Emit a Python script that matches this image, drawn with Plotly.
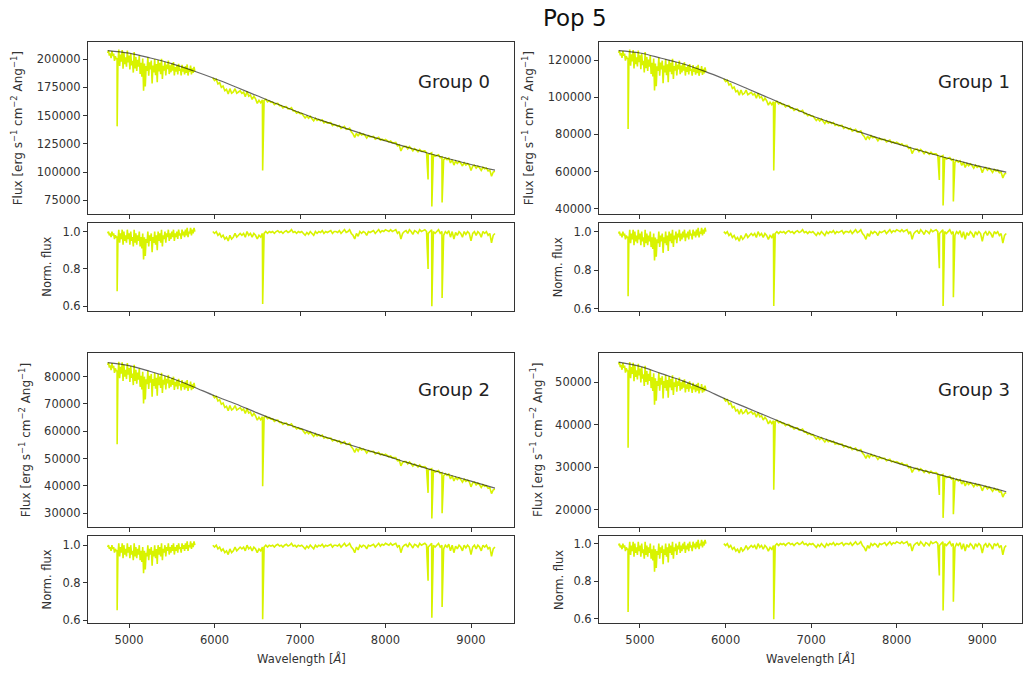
import numpy as np
import plotly.graph_objects as go

W, H = 1023, 677

GROUPS = ["Group 0", "Group 1", "Group 2", "Group 3"]

# Continuum knots (wavelength in Angstrom)
CONT_W = [4750, 5000, 5250, 5500, 5750, 6000, 6250, 6500, 6750, 7000,
          7250, 7500, 7750, 8000, 8250, 8500, 8750, 9000, 9280]
CONT_G0 = [207500, 205300, 201000, 196000, 189700, 182800, 175300, 167500, 159800, 152500,
           145800, 139500, 133400, 127600, 122000, 116650, 111550, 106650, 101650]
CONT_G1 = [125330, 124000, 121200, 118190, 114200, 109680, 104830, 99830, 94920, 90280,
           86170, 82300, 78570, 75030, 71610, 68360, 65370, 62500, 59670]
CONT_G2 = [85080, 83970, 81810, 79380, 76260, 72940, 69940, 66670, 63600, 61000,
           58320, 55800, 53360, 51040, 48560, 46190, 43950, 41700, 39140]
CONT_G3 = [54780, 53790, 52060, 50370, 48370, 46070, 44000, 41880, 39790, 37820,
           36010, 34320, 32680, 31010, 29520, 28230, 26880, 25700, 24190]
CONTS = [CONT_G0, CONT_G1, CONT_G2, CONT_G3]

# Normalised spectrum, blue part (10 A grid) and red part (20 A grid)
BLUE_W = list(range(4750, 5771, 10))
BLUE_F = [0.99, 1.0, 0.98, 0.99, 0.97, 1.0, 0.98, 0.99, 0.96, 0.98, 0.97,
          0.97, 0.95, 1.01, 0.94, 0.99, 0.96, 1.01, 0.93, 1.0, 0.95, 0.98, 0.94, 1.01, 0.96,
          0.99, 0.93, 1.0, 0.95, 0.97, 0.92, 1.01, 0.94, 0.99, 0.93, 0.98,
          0.95, 1.0, 0.92, 0.97, 0.91, 0.99, 0.85, 0.97, 0.87, 0.96,
          0.94, 1.0, 0.92, 0.98, 0.95, 0.99, 0.89, 0.97, 0.94, 1.0,
          0.93, 0.98, 0.90, 1.0, 0.95, 0.99, 0.94, 1.01, 0.92, 0.98,
          0.96, 1.0, 0.94, 0.99, 0.97, 1.01, 0.95, 0.99, 0.96, 1.0,
          0.97, 1.01, 0.95, 0.99, 0.97, 1.0, 0.96, 1.01, 0.98, 0.99,
          0.96, 1.01, 0.98, 1.0, 0.97, 1.01, 0.98, 1.02, 0.97, 1.0,
          0.99, 1.02, 0.98, 1.01, 0.99, 1.02, 1.0]
RED_W = list(range(5980, 9281, 20))
RED_F = [1.0, 0.99, 1.0, 0.98, 0.99, 0.97, 0.98, 0.96, 0.97, 0.95, 0.98, 0.96, 0.97, 0.99, 0.97, 0.98, 0.99,
         0.98, 0.99, 0.97, 1.0, 0.98, 0.99, 0.97, 0.99, 0.98, 0.96, 0.98, 0.97,
         0.99,
         0.99, 1.0, 0.99, 1.0, 0.995, 1.0, 0.99, 1.0, 1.005, 0.995, 1.0, 0.99, 1.0, 1.005, 0.995, 1.0,
         1.01, 0.995, 1.0, 0.99, 1.0, 0.995,
         1.0, 0.99, 0.98, 0.995, 0.985, 1.0, 0.99, 0.98, 1.0, 0.99, 1.0, 0.995, 1.005, 0.99, 1.0, 0.995,
         1.0, 1.005, 0.99, 1.0,
         1.0, 0.995, 1.005, 0.99, 1.0, 1.01, 0.995, 1.0, 1.01, 0.99, 0.98, 0.96, 0.99, 0.975, 1.0, 0.99,
         1.0, 0.995, 0.98, 1.0,
         0.995, 1.0, 1.005, 0.99, 1.0, 1.01, 0.995, 1.005, 1.0, 1.01, 1.005, 1.0, 1.01, 1.0, 1.005, 1.01,
         0.99, 1.0, 0.96, 0.99,
         1.0, 1.005, 0.99, 1.01, 1.0, 0.985, 1.005, 1.0, 0.99, 1.01, 1.0, 1.005, 1.01, 1.0,
         0.99, 1.0, 1.01, 1.0, 0.99, 1.0, 1.01, 0.99, 1.0, 0.98,
         1.0, 0.99, 1.005, 0.97, 1.0, 0.96, 0.995, 0.98, 1.0, 0.99, 0.97, 1.0, 0.985, 1.0, 0.99, 0.95,
         0.99, 1.0, 0.98, 1.0, 0.99, 0.97, 1.0, 0.99, 1.0, 0.98, 0.99, 0.94, 0.98, 0.99]

# Deep lines: H-beta, H-alpha, Ca triplet
DEEP_W = [4861, 6563, 8498, 8542, 8662]
DEEP_F = [[0.68, 0.612, 0.80, 0.60, 0.644],
          [0.665, 0.614, 0.81, 0.614, 0.66],
          [0.653, 0.605, 0.81, 0.612, 0.67],
          [0.636, 0.597, 0.83, 0.644, 0.69]]

FLUX_TICKS = [[75000, 100000, 125000, 150000, 175000, 200000],
              [40000, 60000, 80000, 100000, 120000],
              [30000, 40000, 50000, 60000, 70000, 80000],
              [20000, 30000, 40000, 50000]]
FLUX_RANGE = [[62450, 215450], [36800, 130130], [24900, 88460], [15860, 56850]]
NORM_RANGE = [[0.5765, 1.044], [0.59, 1.043], [0.5826, 1.049], [0.575, 1.0405]]
NORM_TICKS = [0.6, 0.8, 1.0]
X_TICKS = [5000, 6000, 7000, 8000, 9000]
X_RANGE = [[4520, 9503], [4521, 9464], [4520, 9503], [4521, 9464]]

SPEC_COLOR = "#d8f300"
CONT_COLOR = "rgba(0,0,0,0.6)"
AX_COLOR = "#333333"
FONT = "DejaVu Sans"

# pixel layout
COL_X = [(88, 514), (599, 1022), (88, 514), (599, 1022)]
FLUX_Y = [(42, 216), (42, 216), (356, 531), (356, 531)]
NORM_Y = [(225, 313), (225, 313), (540, 628), (540, 628)]
FLUX_LABEL_X = [17.3, 528.3, 25, 536.7]
NORM_LABEL_X = [46.7, 558.3, 46.7, 558.3]
GROUP_LABEL = [(492, 82), (1012, 82), (492, 392), (1012, 392)]


def px_x(p):
    return p / W


def px_y(p):
    return 1 - p / H


def build_norm(g):
    bw = list(BLUE_W) + [w for w in DEEP_W if w < 5800]
    bf = list(BLUE_F) + [f for w, f in zip(DEEP_W, DEEP_F[g]) if w < 5800]
    rw = list(RED_W) + [w for w in DEEP_W if w > 5800]
    rf = list(RED_F) + [f for w, f in zip(DEEP_W, DEEP_F[g]) if w > 5800]
    bo = np.argsort(bw)
    ro = np.argsort(rw)
    bw = [bw[i] for i in bo]
    bf = [bf[i] for i in bo]
    rw = [rw[i] for i in ro]
    rf = [rf[i] for i in ro]
    return bw, bf, rw, rf


fig = go.Figure()
layout = {}
annotations = []

for g in range(4):
    fx, fy = 2 * g + 1, 2 * g + 2
    bw, bf, rw, rf = build_norm(g)
    cont_b = np.interp(bw, CONT_W, CONTS[g])
    cont_r = np.interp(rw, CONT_W, CONTS[g])
    flux_w = bw + [None] + rw
    flux_f = list(np.array(bf) * cont_b) + [None] + list(np.array(rf) * cont_r)
    norm_w = bw + [None] + rw
    norm_f = bf + [None] + rf

    xa = "x" if fx == 1 else f"x{fx}"
    ya = "y" if fx == 1 else f"y{fx}"
    xb, yb = f"x{fy}", f"y{fy}"

    fig.add_trace(go.Scatter(x=flux_w, y=flux_f, mode="lines",
                             line=dict(color=SPEC_COLOR, width=1.6, simplify=False),
                             xaxis=xa, yaxis=ya, showlegend=False, hoverinfo="skip"))
    fig.add_trace(go.Scatter(x=CONT_W, y=CONTS[g], mode="lines",
                             line=dict(color=CONT_COLOR, width=1.2, shape="spline"),
                             xaxis=xa, yaxis=ya, showlegend=False, hoverinfo="skip"))
    fig.add_trace(go.Scatter(x=norm_w, y=norm_f, mode="lines",
                             line=dict(color=SPEC_COLOR, width=1.6, simplify=False),
                             xaxis=xb, yaxis=yb, showlegend=False, hoverinfo="skip"))

    x0, x1 = COL_X[g]
    common_x = dict(range=X_RANGE[g], tickvals=X_TICKS, ticks="outside", ticklen=4,
                    tickcolor=AX_COLOR, showline=True, linecolor=AX_COLOR, linewidth=1,
                    mirror=True, showgrid=False, zeroline=False,
                    domain=[px_x(x0), px_x(x1)],
                    tickfont=dict(family=FONT, size=11.5, color=AX_COLOR))
    common_y = dict(ticks="outside", ticklen=4, tickcolor=AX_COLOR, showline=True,
                    linecolor=AX_COLOR, linewidth=1, mirror=True, showgrid=False,
                    zeroline=False, tickfont=dict(family=FONT, size=11.5, color=AX_COLOR))

    layout["xaxis" if fx == 1 else f"xaxis{fx}"] = dict(common_x, anchor=ya, showticklabels=False)
    layout[f"xaxis{fy}"] = dict(common_x, anchor=yb, showticklabels=(g >= 2), ticklabelstandoff=2)
    layout["yaxis" if fx == 1 else f"yaxis{fx}"] = dict(
        common_y, anchor=xa, range=FLUX_RANGE[g], tickvals=FLUX_TICKS[g], tickformat="d",
        domain=[px_y(FLUX_Y[g][1]), px_y(FLUX_Y[g][0])])
    layout[f"yaxis{fy}"] = dict(
        common_y, anchor=xb, range=NORM_RANGE[g], tickvals=NORM_TICKS, tickformat=".1f",
        domain=[px_y(NORM_Y[g][1]), px_y(NORM_Y[g][0])])

    annotations.append(dict(
        text="Flux [erg s<sup>\u22121</sup> cm<sup>\u22122</sup> Ang<sup>\u22121</sup>]",
        x=px_x(FLUX_LABEL_X[g]), y=px_y((FLUX_Y[g][0] + FLUX_Y[g][1]) / 2),
        xref="paper", yref="paper", textangle=-90, showarrow=False,
        xanchor="center", yanchor="middle",
        font=dict(family=FONT, size=12, color=AX_COLOR)))
    annotations.append(dict(
        text="Norm. flux",
        x=px_x(NORM_LABEL_X[g]), y=px_y((NORM_Y[g][0] + NORM_Y[g][1]) / 2),
        xref="paper", yref="paper", textangle=-90, showarrow=False,
        xanchor="center", yanchor="middle",
        font=dict(family=FONT, size=11.5, color=AX_COLOR)))
    gx, gy = GROUP_LABEL[g]
    annotations.append(dict(
        text=GROUPS[g], x=px_x(gx), y=px_y(gy), xref="paper", yref="paper",
        showarrow=False, xanchor="right", yanchor="middle",
        font=dict(family=FONT, size=18, color="#222222")))
    if g >= 2:
        annotations.append(dict(
            text="Wavelength [<i>\u00c5</i>]", x=px_x((x0 + x1) / 2), y=px_y(663),
            xref="paper", yref="paper", showarrow=False,
            xanchor="center", yanchor="middle",
            font=dict(family=FONT, size=11.5, color=AX_COLOR)))

annotations.append(dict(
    text="Pop 5", x=px_x(575), y=px_y(18), xref="paper", yref="paper",
    showarrow=False, xanchor="center", yanchor="middle",
    font=dict(family=FONT, size=23, color="#111111")))

fig.update_layout(
    width=W, height=H,
    margin=dict(l=0, r=0, t=0, b=0),
    paper_bgcolor="white", plot_bgcolor="white",
    annotations=annotations,
    font=dict(family=FONT),
    **layout)

fig.write_html("out.html")
